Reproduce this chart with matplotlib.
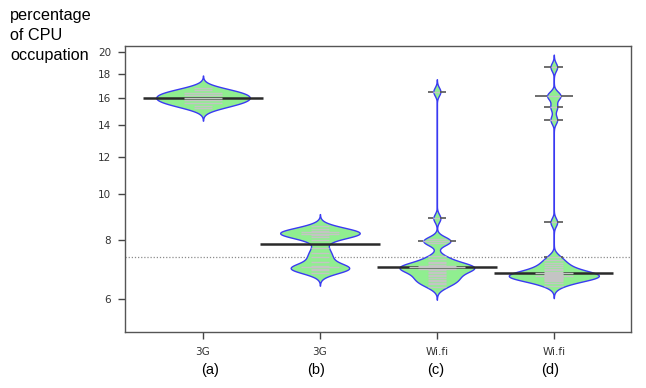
import numpy as np
import matplotlib
matplotlib.use("Agg")
import matplotlib.pyplot as plt
from matplotlib.ticker import NullLocator

# ---------------- data ----------------
categories = ["3G", "3G", "Wi.fi", "Wi.fi"]
panel_labels = ["(a)", "(b)", "(c)", "(d)"]

cpu_a = [15.2, 15.4, 15.6, 15.6, 15.8, 15.8, 16.0, 16.0, 16.2, 16.2,
         16.4, 16.4, 16.6, 16.8]
cpu_b = [6.8, 6.9, 6.95, 7.0, 7.0, 7.05, 7.2, 7.35, 7.5, 7.7,
         8.0, 8.1, 8.2, 8.25, 8.25, 8.3, 8.3, 8.35, 8.45, 8.55]
cpu_c = [6.35, 6.45, 6.5, 6.55, 6.6, 6.65, 6.7, 6.75, 6.8, 6.85, 6.9,
         6.95, 6.95, 7.0, 7.0, 7.0, 7.05, 7.05, 7.1, 7.15, 7.2, 7.3, 7.4,
         7.9, 7.96, 7.96, 8.03, 8.9, 16.5]
cpu_d = [6.4, 6.48, 6.54, 6.58, 6.61, 6.64, 6.66, 6.68, 6.7, 6.7, 6.72,
         6.74, 6.76, 6.78, 6.8, 6.8, 6.85, 6.9, 6.95, 7.0, 7.08, 7.15,
         7.25, 7.38, 8.73, 14.38, 15.3, 16.17, 16.17, 18.6]
overall_line = 7.36
y_ticks = [6, 8, 10, 12, 14, 16, 18, 20]

# ---------------- styles ----------------
positions = [1, 2, 3, 4]
bean_halfwidth = [0.40, 0.34, 0.32, 0.385]
bw = 0.02          # kernel bandwidth in log space
ll = 0.16          # beanline length per observation
line_half = 0.51   # half length of the bean median line
fill_col = "#90EE90"
edge_col = "#3A3AF2"
in_col = "#C4C4C4"
out_col = "#555555"

fig = plt.figure(figsize=(6.46, 3.88), dpi=100)
ax = fig.add_axes([125 / 646, 1 - 332 / 388, (631 - 125) / 646, (332 - 46) / 388])
ax.set_yscale("log")

groups = [cpu_a, cpu_b, cpu_c, cpu_d]
stats, grids, scaled = [], [], []
for g, hw in zip(groups, bean_halfwidth):
    lx = np.log(np.asarray(g, float))
    grid = np.linspace(lx.min() - 3 * bw, lx.max() + 3 * bw, 2000)
    dens = np.exp(-0.5 * ((grid[:, None] - lx[None, :]) / bw) ** 2).sum(axis=1)
    arr = np.asarray(g, float)
    stats.append(dict(coords=np.exp(grid), vals=dens, mean=arr.mean(),
                      median=np.median(arr), min=arr.min(), max=arr.max()))
    grids.append(grid)
    scaled.append(hw * dens / dens.max())

ax.axhline(overall_line, color="#8C8C8C", lw=0.9, ls=(0, (1, 1.5)), zorder=1)

parts = ax.violin(stats, positions=positions,
                  widths=[2 * w for w in bean_halfwidth],
                  showmeans=False, showextrema=False, showmedians=False)
for b in parts["bodies"]:
    b.set_facecolor(fill_col)
    b.set_edgecolor(edge_col)
    b.set_alpha(1)
    b.set_linewidth(1.0)
    b.set_zorder(2)

for pos, st in zip(positions, stats):
    ax.hlines(st["median"], pos - line_half, pos + line_half,
              color="#2A2A2A", lw=1.8, zorder=3)

for pos, g, grid, sc in zip(positions, groups, grids, scaled):
    vals, counts = np.unique(np.asarray(g, float), return_counts=True)
    for v, c in zip(vals, counts):
        L = c * ll / 2
        w = np.interp(np.log(v), grid, sc)
        if L <= w:
            ax.hlines(v, pos - L, pos + L, color=in_col, lw=1.0, zorder=4)
        else:
            ax.hlines(v, pos - w, pos + w, color=in_col, lw=1.0, zorder=4)
            ax.hlines([v, v], [pos - L, pos + w], [pos - w, pos + L],
                      color=out_col, lw=1.2, zorder=4)

ax.set_xlim(0.333, 4.66)
ax.set_ylim(5.11, 20.6)
ax.set_yticks(y_ticks, labels=[str(t) for t in y_ticks])
ax.yaxis.set_minor_locator(NullLocator())
ax.set_xticks(positions, labels=categories)

for s in ax.spines.values():
    s.set_color("#555555")
    s.set_linewidth(1.0)
ax.tick_params(axis="both", which="major", length=5, width=1.0,
               color="#444444", labelcolor="#333333", labelsize=7.5)
ax.tick_params(axis="y", pad=5)
ax.tick_params(axis="x", pad=6)

offsets = [0.06, -0.03, -0.01, -0.03]
for pos, lab, off in zip(positions, panel_labels, offsets):
    ax.text(pos + off, -0.133, lab, transform=ax.get_xaxis_transform(),
            ha="center", va="center", fontsize=10.5,
            family="Liberation Sans", color="black")

fig.text(10 / 646, 1 - 8 / 388, "percentage\nof CPU\noccupation",
         ha="left", va="top", fontsize=11.7, family="Liberation Sans",
         color="black", linespacing=1.42)

fig.savefig("out.png", dpi=100)
